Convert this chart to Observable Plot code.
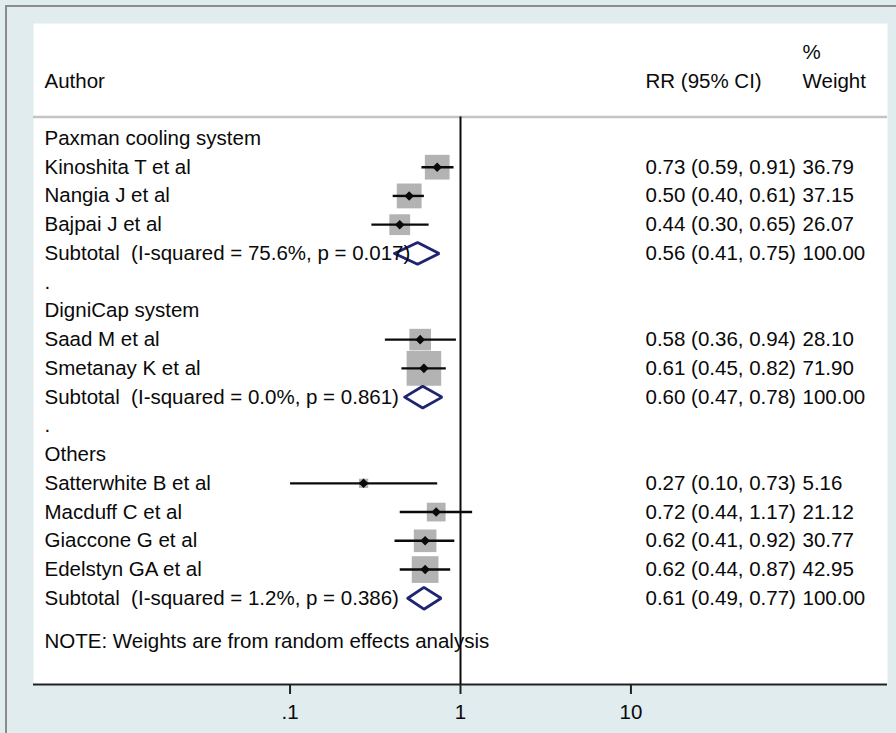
<!DOCTYPE html>
<html><head><meta charset="utf-8">
<script src="https://cdn.jsdelivr.net/npm/d3@7"></script>
<script src="https://cdn.jsdelivr.net/npm/@observablehq/plot@0.6"></script>
<style>
html,body{margin:0;padding:0;background:#e1ecee;}
#wrap{position:relative;width:896px;height:733px;overflow:hidden;}
#border{position:absolute;left:5px;top:5px;right:-10px;bottom:-10px;border-top:2px solid #8c8c8c;border-left:2px solid #8c8c8c;pointer-events:none;}
</style></head><body>
<div id="wrap"><div id="chart"></div><div id="border"></div></div>
<script>
// ---- data ----
const groupNames = ["Paxman cooling system", "DigniCap system", "Others"];
const studies = ["Kinoshita T et al", "Nangia J et al", "Bajpai J et al",
  "Saad M et al", "Smetanay K et al",
  "Satterwhite B et al", "Macduff C et al", "Giaccone G et al", "Edelstyn GA et al"];
const studyGroup = [0, 0, 0, 1, 1, 2, 2, 2, 2];
const rr = [0.73, 0.50, 0.44, 0.58, 0.61, 0.27, 0.72, 0.62, 0.62];
const lo = [0.59, 0.40, 0.30, 0.36, 0.45, 0.10, 0.44, 0.41, 0.44];
const hi = [0.91, 0.61, 0.65, 0.94, 0.82, 0.73, 1.17, 0.92, 0.87];
const weight = [36.79, 37.15, 26.07, 28.10, 71.90, 5.16, 21.12, 30.77, 42.95];
const subI2 = ["75.6%", "0.0%", "1.2%"];
const subP = ["0.017", "0.861", "0.386"];
const subRR = [0.56, 0.60, 0.61];
const subLo = [0.41, 0.47, 0.49];
const subHi = [0.75, 0.78, 0.77];
const subWeight = [100, 100, 100];
const tickValues = [0.1, 1, 10];
const tickLabels = [".1", "1", "10"];
const headers = {author: "Author", rr: "RR (95% CI)", pct: "%", weight: "Weight"};
const note = "NOTE: Weights are from random effects analysis";

// ---- layout (rows) ----
const fmt = v => v.toFixed(2);
const labels = [];
const studyRows = [];
const subRows = [];
let row = 0;
groupNames.forEach((g, gi) => {
  labels.push({row, text: g});
  row++;
  studies.forEach((s, i) => {
    if (studyGroup[i] !== gi) return;
    labels.push({row, text: s});
    studyRows.push({row, rr: rr[i], lo: lo[i], hi: hi[i], w: weight[i],
      ci: `${fmt(rr[i])} (${fmt(lo[i])}, ${fmt(hi[i])})`, wt: fmt(weight[i])});
    row++;
  });
  labels.push({row, text: `Subtotal\u00a0 (I-squared = ${subI2[gi]}, p = ${subP[gi]})`});
  subRows.push({row, rr: subRR[gi], lo: subLo[gi], hi: subHi[gi], g: gi,
    ci: `${fmt(subRR[gi])} (${fmt(subLo[gi])}, ${fmt(subHi[gi])})`, wt: fmt(subWeight[gi])});
  row++;
  if (gi < groupNames.length - 1) { labels.push({row, text: "."}); row++; }
});
const noteRow = row + 0.5;
labels.push({row: noteRow, text: note});

const dh = 0.38;
const diamondPts = subRows.flatMap(d => [
  {x: d.lo, y: d.row, g: d.g}, {x: d.rr, y: d.row - dh, g: d.g},
  {x: d.hi, y: d.row, g: d.g}, {x: d.rr, y: d.row + dh, g: d.g},
  {x: d.lo, y: d.row, g: d.g}
]);

const headerRow = -2, headerLine = -0.75, yTop = -4, yBottom = 19;
const ink = "#0a0a0a";

const chart = Plot.plot({
  width: 896, height: 733,
  marginTop: 23, marginBottom: 49, marginLeft: 33, marginRight: 9,
  style: {fontFamily: "'Liberation Sans', Arial, sans-serif", fontSize: "20.5px", background: "#e1ecee", color: ink},
  x: {type: "log", domain: [1/320, 320], axis: null},
  y: {domain: [yTop, yBottom], reverse: true, axis: null},
  r: {type: "sqrt", domain: [0, 100], range: [0, 23]},
  marks: [
    Plot.frame({fill: "white", stroke: "none"}),
    Plot.ruleY([headerLine], {stroke: "#c4c4c4", strokeWidth: 2.5}),
    Plot.ruleY([yBottom], {stroke: "#222", strokeWidth: 2}),
    Plot.ruleX([1], {y1: headerLine, y2: yBottom, stroke: ink, strokeWidth: 2}),
    Plot.axisX({ticks: tickValues, tickFormat: d => tickLabels[tickValues.indexOf(d)],
      tickSize: 10, tickPadding: 10, fontSize: 20.5, strokeWidth: 2, stroke: "#222", fill: ink}),
    Plot.dot(studyRows, {x: "rr", y: "row", r: "w", symbol: "square", fill: "#b3b3b3", stroke: "none"}),
    Plot.link(studyRows, {x1: "lo", x2: "hi", y1: "row", y2: "row", stroke: ink, strokeWidth: 2.4}),
    Plot.dot(studyRows, {x: "rr", y: "row", r: 4.3, symbol: "diamond2", fill: ink, stroke: "none"}),
    Plot.line(diamondPts, {x: "x", y: "y", z: "g", stroke: "#1f2470", strokeWidth: 2.8, curve: "linear", strokeLinejoin: "miter"}),
    Plot.text(labels, {y: "row", text: "text", frameAnchor: "left", dx: 11, textAnchor: "start", lineAnchor: "middle", fill: ink}),
    Plot.text([headers.author], {y: headerRow, text: d => d, frameAnchor: "left", dx: 11, textAnchor: "start", fill: ink}),
    Plot.text([headers.rr], {y: headerRow, text: d => d, frameAnchor: "left", dx: 612, textAnchor: "start", fill: ink}),
    Plot.text([headers.pct], {y: headerRow - 1, text: d => d, frameAnchor: "left", dx: 769, textAnchor: "start", fill: ink}),
    Plot.text([headers.weight], {y: headerRow, text: d => d, frameAnchor: "left", dx: 769, textAnchor: "start", fill: ink}),
    Plot.text([...studyRows, ...subRows], {y: "row", text: "ci", frameAnchor: "left", dx: 612, textAnchor: "start", fill: ink}),
    Plot.text([...studyRows, ...subRows], {y: "row", text: "wt", frameAnchor: "left", dx: 769, textAnchor: "start", fill: ink})
  ]
});
document.getElementById("chart").appendChild(chart);
</script>
</body></html>
